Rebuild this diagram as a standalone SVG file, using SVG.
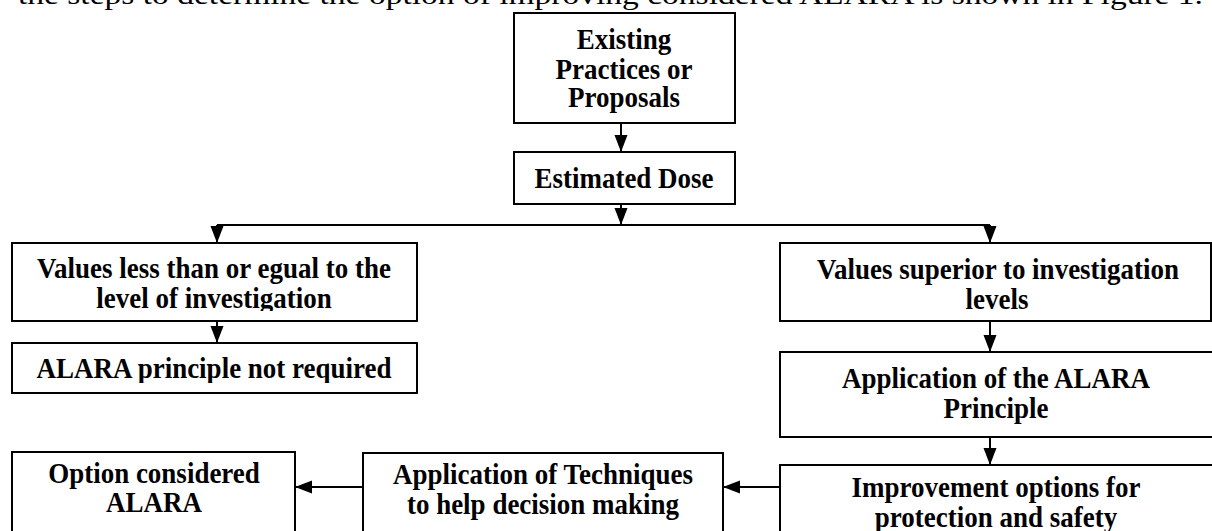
<svg xmlns="http://www.w3.org/2000/svg" width="1212" height="531" viewBox="0 0 1212 531">
<style>
.box{fill:#fff;stroke:#000;stroke-width:2}
.t{font-family:"Liberation Serif","Times New Roman",serif;font-weight:bold;font-size:27px;text-anchor:middle;fill:#000}
.p{font-family:"Liberation Serif","Times New Roman",serif;font-size:27px;fill:#000}
.c{fill:none;stroke:#000;stroke-width:2}
</style>
<defs>
<marker id="ah" markerUnits="userSpaceOnUse" markerWidth="18" markerHeight="14" refX="17" refY="6.5" orient="auto">
<path d="M0,0 L17,6.5 L0,13 z" fill="#000"/>
</marker>
<clipPath id="cl1"><rect x="12" y="243" width="405" height="68"/></clipPath>
<clipPath id="cl2"><rect x="12" y="343" width="405" height="40"/></clipPath>
<clipPath id="cl3"><rect x="780" y="352" width="432" height="76"/></clipPath>
</defs>
<rect width="1212" height="531" fill="#fff"/>
<text class="p" x="18" y="4" textLength="1185" lengthAdjust="spacingAndGlyphs">the steps to determine the option of improving considered ALARA is shown in Figure 1.</text>
<g id="n-existing">
<rect class="box" x="514" y="13" width="221" height="110"/>
<text class="t" transform="translate(624,49) scale(1,1.12)">Existing</text>
<text class="t" transform="translate(624,79) scale(1,1.12)">Practices or</text>
<text class="t" transform="translate(624,107) scale(1,1.12)">Proposals</text>
</g>
<g id="n-dose">
<rect class="box" x="514" y="152" width="221" height="52"/>
<text class="t" transform="translate(624,188) scale(1,1.12)">Estimated Dose</text>
</g>
<g id="n-less">
<rect class="box" x="12" y="243" width="405" height="78"/>
<g clip-path="url(#cl1)">
<text class="t" transform="translate(214,278) scale(1,1.12)">Values less than or egual to the</text>
<text class="t" transform="translate(214,308) scale(1,1.12)">level of investigation</text>
</g>
</g>
<g id="n-notreq">
<rect class="box" x="12" y="343" width="405" height="50"/>
<g clip-path="url(#cl2)">
<text class="t" transform="translate(214,378) scale(1,1.12)">ALARA principle not required</text>
</g>
</g>
<g id="n-superior">
<rect class="box" x="780" y="243" width="431" height="78"/>
<text class="t" transform="translate(998,279) scale(1,1.12)">Values superior to investigation</text>
<text class="t" transform="translate(997,309) scale(1,1.12)">levels</text>
</g>
<g id="n-apply">
<rect class="box" x="780" y="352" width="450" height="85"/>
<g clip-path="url(#cl3)">
<text class="t" transform="translate(996,388) scale(1,1.12)">Application of the ALARA</text>
<text class="t" transform="translate(996,418) scale(1,1.12)">Principle</text>
</g>
</g>
<g id="n-improve">
<rect class="box" x="780" y="465" width="450" height="90"/>
<text class="t" transform="translate(996,497) scale(1,1.12)">Improvement options for</text>
<text class="t" transform="translate(996,527) scale(1,1.12)">protection and safety</text>
</g>
<g id="n-tech">
<rect class="box" x="363" y="453" width="360" height="100"/>
<text class="t" transform="translate(543,484) scale(1,1.12)">Application of Techniques</text>
<text class="t" transform="translate(543,514) scale(1,1.12)">to help decision making</text>
</g>
<g id="n-option">
<rect class="box" x="12" y="452" width="283" height="100"/>
<text class="t" transform="translate(154,483) scale(1,1.12)">Option considered</text>
<text class="t" transform="translate(154,512) scale(1,1.12)">ALARA</text>
</g>
<g id="connectors">
<path class="c" d="M621,123 V152" marker-end="url(#ah)"/>
<path class="c" d="M621,204 V225" marker-end="url(#ah)"/>
<path class="c" d="M217,225 H990"/>
<path class="c" d="M217,225 V243" marker-end="url(#ah)"/>
<path class="c" d="M990,225 V243" marker-end="url(#ah)"/>
<path class="c" d="M217,321 V343" marker-end="url(#ah)"/>
<path class="c" d="M990,321 V352" marker-end="url(#ah)"/>
<path class="c" d="M990,437 V465" marker-end="url(#ah)"/>
<path class="c" d="M780,487 H723" marker-end="url(#ah)"/>
<path class="c" d="M363,487 H295" marker-end="url(#ah)"/>
</g>
</svg>
